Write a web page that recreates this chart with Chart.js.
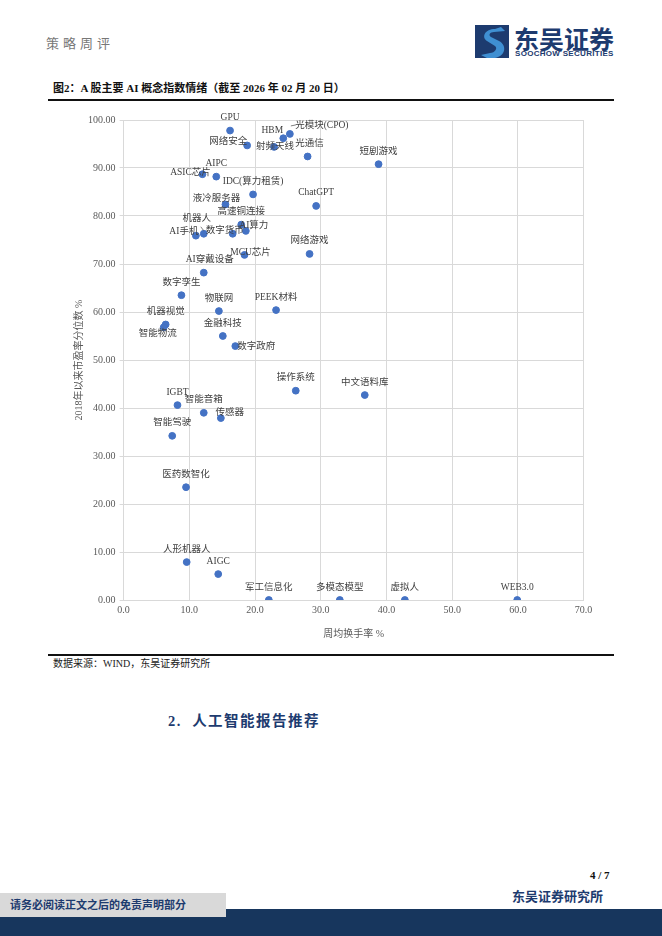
<!DOCTYPE html>
<html>
<head>
<meta charset="utf-8">
<script src="https://cdn.jsdelivr.net/npm/chart.js@4.4.1/dist/chart.umd.min.js"></script>
<style>
  body{margin:0;width:662px;height:936px;position:relative;background:#fff;overflow:hidden;
    font-family:"Liberation Serif","Noto Sans CJK SC",serif;}
  .abs{position:absolute;white-space:nowrap;line-height:1;}
  #chartBox{position:absolute;left:55px;top:106px;width:545px;height:534px;}
</style>
</head>
<body>
<div class="abs" style="left:46px;top:37px;font-size:13px;color:#777;letter-spacing:4px;">策略周评</div>
<svg class="abs" style="left:475px;top:25px;" width="34" height="33" viewBox="0 0 34 33">
  <rect x="0" y="0" width="34" height="33" fill="#1d3b6f"/>
  <path d="M20 4 C10 4 6 12 12 16 L20 21 C23 23 20 28 15 28 L6 30 L12 33 L20 33 C31 31 32 20 24 16 L16 12 C13 10 15 7 19 7 L30 6 L26 2 Z" fill="#3f8fd2"/>
</svg>
<div class="abs" style="left:514px;top:26px;font-size:25px;font-weight:bold;color:#1d3b6f;font-family:'Noto Sans CJK SC',sans-serif;">东吴证券</div>
<div class="abs" style="left:515px;top:50px;font-size:8px;font-weight:bold;color:#1d3b6f;font-family:'Liberation Sans',sans-serif;letter-spacing:0.3px;">SOOCHOW SECURITIES</div>

<div class="abs" style="left:53px;top:83px;font-size:11px;font-weight:bold;color:#111;">图2：A 股主要 AI 概念指数情绪（截至 2026 年 02 月 20 日）</div>
<div class="abs" style="left:48px;top:99px;width:566px;height:1.5px;background:#111;"></div>

<div id="chartBox"><canvas id="myChart"></canvas></div>

<div class="abs" style="left:48px;top:654px;width:566px;height:1.5px;background:#111;"></div>
<div class="abs" style="left:53px;top:659px;font-size:10px;color:#222;">数据来源：WIND，东吴证券研究所</div>

<div class="abs" style="left:168px;top:714px;font-size:14.5px;font-weight:bold;color:#1d3b6f;letter-spacing:1.5px;">2.&nbsp;&nbsp;人工智能报告推荐</div>

<div class="abs" style="left:590px;top:870px;font-size:11px;font-weight:bold;color:#111;">4 / 7</div>
<div class="abs" style="left:512px;top:890px;font-size:13px;font-weight:bold;color:#1d3b6f;">东吴证券研究所</div>
<div class="abs" style="left:0;top:909px;width:662px;height:27px;background:#17365d;"></div>
<div class="abs" style="left:0;top:893px;width:226px;height:24px;background:#d9d9d9;"></div>
<div class="abs" style="left:10px;top:900px;font-size:11px;font-weight:bold;color:#1d3b6f;">请务必阅读正文之后的免责声明部分</div>

<script>
'use strict';

// 指数名称
const names = ['GPU','HBM','光模块(CPO)','网络安全','射频天线','光通信','短剧游戏','ASIC芯片','AIPC',
  'IDC(算力租赁)','液冷服务器','ChatGPT','高速铜连接','AI算力','机器人','AI手机','数字货币','MCU芯片',
  '网络游戏','AI穿戴设备','数字孪生','物联网','PEEK材料','机器视觉','智能物流','金融科技','数字政府',
  '操作系统','中文语料库','IGBT','智能音箱','传感器','智能驾驶','医药数智化','人形机器人','AIGC',
  '军工信息化','多模态模型','虚拟人','WEB3.0'];

// 周均换手率 %
const turnover = [16.2,24.3,25.3,18.8,22.9,28.0,38.8,12.0,14.1,
  19.7,15.5,29.3,17.9,18.6,12.2,11.0,16.6,18.4,
  28.3,12.2,8.8,14.5,23.2,6.4,6.1,15.1,17.0,
  26.2,36.7,8.2,12.2,14.8,7.4,9.5,9.6,14.4,
  22.1,32.9,42.8,59.9];

// 2018年以来市盈率分位数 %
const percentile = [97.8,96.2,97.1,94.7,94.4,92.4,90.8,88.7,88.2,
  84.5,82.4,82.1,78.2,76.9,76.3,75.9,76.3,71.9,
  72.1,68.2,63.5,60.2,60.4,57.4,56.8,55.0,52.9,
  43.6,42.7,40.6,39.0,37.9,34.2,23.5,7.9,5.4,
  0,0,0,0];

const xTicks = [0,10,20,30,40,50,60,70];
const yTicks = [0,10,20,30,40,50,60,70,80,90,100];

// label placement (pixel offsets from the point), default is above
const labelShift = {
  'HBM':[-11,-8], '光模块(CPO)':[32,-8], '网络安全':[-19,-4], '射频天线':[1,0], '光通信':[2,-13],
  'ASIC芯片':[-12,-2], '液冷服务器':[-9,-6], '机器人':[-7,-15], 'AI手机':[-12,-4], '数字货币':[-8,-3],
  'AI算力':[8,-5], 'MCU芯片':[6,-2], 'AI穿戴设备':[6,-13], '智能物流':[-6,6], '数字政府':[21,0],
  '传感器':[9,-6]
};
const leaders = {'光模块(CPO)':[[1,-8],[6,-9]], '机器人':[[-3,-7],[0,-3]]};

let points = [];
for (let i = 0; i < names.length; i++) {
  points.push({x: turnover[i], y: percentile[i]});
}

const pointLabels = {
  id: 'pointLabels',
  afterDatasetsDraw(chart) {
    const ctx = chart.ctx;
    const meta = chart.getDatasetMeta(0);
    ctx.save();
    ctx.font = '9.5px "Liberation Serif","Noto Sans CJK SC"';
    ctx.fillStyle = '#404040';
    ctx.textAlign = 'center';
    ctx.textBaseline = 'middle';
    meta.data.forEach(function(pt, i) {
      const name = names[i];
      const s = labelShift[name] || [0,-13];
      ctx.fillText(name, pt.x + s[0], pt.y + s[1]);
      if (leaders[name]) {
        const l = leaders[name];
        ctx.strokeStyle = '#606060';
        ctx.lineWidth = 0.8;
        ctx.beginPath();
        ctx.moveTo(pt.x + l[0][0], pt.y + l[0][1]);
        ctx.lineTo(pt.x + l[1][0], pt.y + l[1][1]);
        ctx.stroke();
      }
    });
    ctx.restore();
  }
};

const tickFont = {family: '"Liberation Serif","Noto Sans CJK SC"', size: 10};

let ctx = document.getElementById('myChart').getContext('2d');
let myChart = new Chart(ctx, {
  type: 'scatter',
  data: {
    datasets: [{
      data: points,
      backgroundColor: '#4472C4',
      borderColor: '#4472C4',
      pointRadius: 3.4,
      pointHoverRadius: 3.4
    }]
  },
  options: {
    responsive: true,
    maintainAspectRatio: false,
    animation: false,
    layout: {padding: {top: 14, right: 16.4, bottom: 0, left: 0}},
    plugins: {legend: {display: false}, tooltip: {enabled: false}},
    scales: {
      x: {
        type: 'linear', min: 0, max: 70,
        afterBuildTicks: function(axis) { axis.ticks = xTicks.map(v => ({value: v})); },
        afterFit: function(axis) { axis.height = 40; },
        ticks: {font: tickFont, color: '#595959', padding: 4, callback: v => v.toFixed(1)},
        grid: {color: '#d9d9d9', lineWidth: 1, drawTicks: false},
        border: {color: '#d9d9d9'},
        title: {display: true, text: '周均换手率 %', font: tickFont, color: '#595959', padding: {top: 2, bottom: 0}}
      },
      y: {
        type: 'linear', min: 0, max: 100,
        afterBuildTicks: function(axis) { axis.ticks = yTicks.map(v => ({value: v})); },
        afterFit: function(axis) { axis.width = 68.6; },
        ticks: {font: tickFont, color: '#595959', padding: 4, callback: v => v.toFixed(2)},
        grid: {color: '#d9d9d9', lineWidth: 1, tickLength: 4},
        border: {color: '#d9d9d9'},
        title: {display: true, text: '2018年以来市盈率分位数 %', font: tickFont, color: '#595959', padding: {top: 18, bottom: 0}}
      }
    }
  },
  plugins: [pointLabels]
});
</script>
</body>
</html>
